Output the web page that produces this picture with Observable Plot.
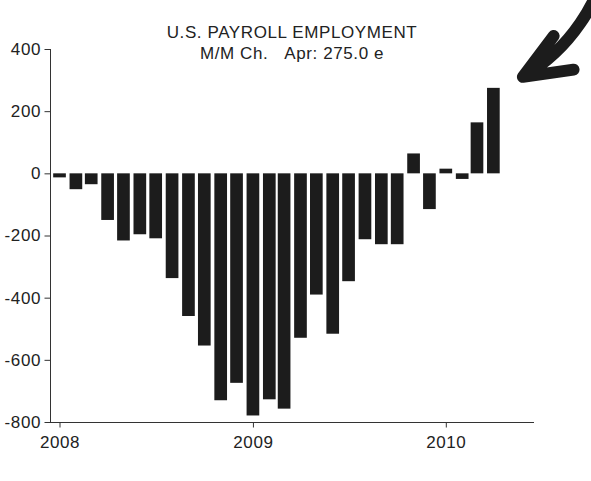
<!DOCTYPE html>
<html>
<head>
<meta charset="utf-8">
<script src="https://cdn.jsdelivr.net/npm/d3@7"></script>
<script src="https://cdn.jsdelivr.net/npm/@observablehq/plot@0.6"></script>
<style>
  body { margin: 0; background: #fff; }
  #chart svg text { letter-spacing: 0.6px; }
</style>
</head>
<body>
<div id="chart"></div>
<script>
// Months (bars centred on the first of each month)
const months = [
  "2008-01","2008-02","2008-03","2008-04","2008-05","2008-06",
  "2008-07","2008-08","2008-09","2008-10","2008-11","2008-12",
  "2009-01","2009-02","2009-03","2009-04","2009-05","2009-06",
  "2009-07","2009-08","2009-09","2009-10","2009-11","2009-12",
  "2010-01","2010-02","2010-03","2010-04"
];
// Month-over-month change in payroll employment (thousands)
const payrollChange = [
  -13, -51, -35, -150, -216, -196, -209, -337, -459, -554, -730, -674,
  -779, -727, -757, -529, -390, -516, -347, -212, -228, -228, 64, -115,
  15, -18, 164, 275
];
const yTicks = [400, 200, 0, -200, -400, -600, -800];
const xTickDates = ["2008-01-01", "2009-01-01", "2010-01-01"];
const xDomain = ["2007-12-14", "2010-06-15"];
const yDomain = [-800, 400];
const titleText = ["U.S. PAYROLL EMPLOYMENT"];
const subtitleText = ["M/M Ch.\u00a0\u00a0\u00a0Apr: 275.0 e"];
// Hand-drawn arrow pointing at the latest bar (data coordinates)
const arrowNote = [{fromDate: "2010-11-06", fromValue: 719, toDate: "2010-05-26", toValue: 312}];

const parseMonth = d3.utcParse("%Y-%m");
const data = months.map((m, i) => ({date: parseMonth(m), value: payrollChange[i]}));
const ink = "#1c1c1c";

const chart = Plot.plot({
  width: 591,
  height: 481,
  marginLeft: 50,
  marginRight: 58,
  marginTop: 49,
  marginBottom: 59,
  style: {fontFamily: "'Liberation Sans', Arial, sans-serif", color: "#222", background: "#fff", overflow: "hidden"},
  x: {type: "utc", domain: xDomain.map(d => new Date(d))},
  y: {domain: yDomain},
  marks: [
    Plot.rect(data, {
      x1: d => d3.utcDay.offset(d.date, -12),
      x2: d => d3.utcDay.offset(d.date, 12),
      y1: 0,
      y2: "value",
      fill: ink
    }),
    Plot.frame({anchor: "left", stroke: "#333"}),
    Plot.frame({anchor: "bottom", stroke: "#333"}),
    Plot.axisY({ticks: yTicks, tickFormat: d => String(d), tickSize: 5.5, tickPadding: 4, fontSize: 17, label: null, stroke: "#333"}),
    Plot.axisX({ticks: xTickDates.map(d => new Date(d)), tickFormat: "%Y", tickSize: 5.5, tickPadding: 8, fontSize: 17, label: null, stroke: "#333"}),
    Plot.text(titleText, {frameAnchor: "top", lineAnchor: "middle", dy: -16.5, fontSize: 17, fill: "#222"}),
    Plot.text(subtitleText, {frameAnchor: "top", lineAnchor: "middle", dy: 4, fontSize: 17, fill: "#222"}),
    Plot.arrow(arrowNote, {
      x1: d => new Date(d.fromDate), y1: "fromValue",
      x2: d => new Date(d.toDate), y2: "toValue",
      bend: 25, strokeWidth: 12, headAngle: 45, headLength: 18,
      stroke: ink, strokeLinecap: "round", strokeLinejoin: "round"
    })
  ]
});
document.getElementById("chart").appendChild(chart);
</script>
</body>
</html>
